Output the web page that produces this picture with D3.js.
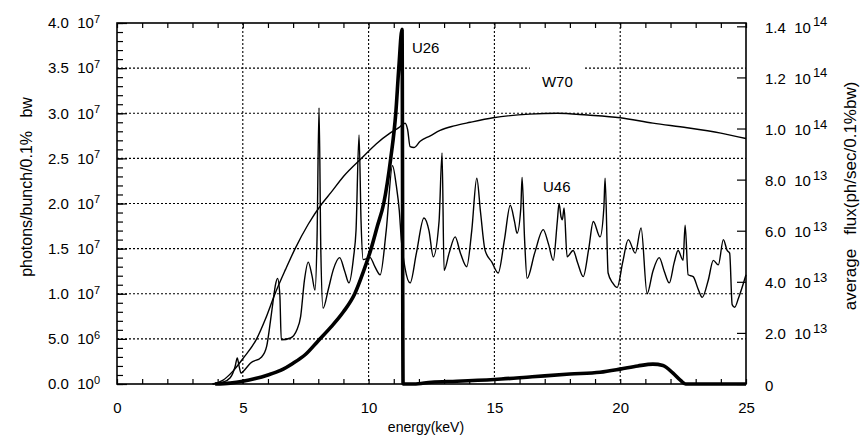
<!DOCTYPE html>
<html>
<head>
<meta charset="utf-8">
<script src="https://cdn.jsdelivr.net/npm/d3@7"></script>
<style>
body { margin: 0; background: #fff; }
text { font-family: "Liberation Sans", Arial, sans-serif; fill: #000; }
</style>
</head>
<body>
<svg id="chart"></svg>
<script>
// values in units of 10^7 photons/bunch/0.1% bw, energy in keV
let u26 = [
    [3.9, 0], [4.5, 0.01], [5, 0.03], [5.5, 0.06], [6, 0.1], [6.5, 0.15], [7, 0.23],
    [7.5, 0.33], [8, 0.48], [8.5, 0.63], [9, 0.8], [9.45, 1.0], [9.8, 1.25], [10.1, 1.5],
    [10.35, 1.75], [10.6, 2.0], [10.88, 2.5], [11.08, 3.0], [11.2, 3.5], [11.33, 3.93],
    [11.37, 0], [11.8, 0], [12.5, 0.02], [13.5, 0.03], [15, 0.05], [16.5, 0.08], [18, 0.11],
    [19.2, 0.13], [20, 0.165], [20.7, 0.2], [21.3, 0.22], [21.7, 0.205], [22.1, 0.12],
    [22.4, 0.04], [22.6, 0], [25, 0]
];

let w70 = [
    [3.8, 0], [4.2, 0.04], [4.6, 0.14], [5.0, 0.28], [5.55, 0.5], [5.9, 0.72], [6.28, 1.0],
    [6.7, 1.27], [7.08, 1.5], [7.6, 1.77], [8.15, 2.0], [8.5, 2.12], [9.0, 2.3], [9.75, 2.51],
    [10.3, 2.66], [10.85, 2.78], [11.2, 2.84], [11.45, 2.89], [11.55, 2.82], [11.65, 2.63],
    [11.8, 2.62], [12.05, 2.69], [12.45, 2.75], [12.84, 2.81], [13.4, 2.86], [14.04, 2.9],
    [14.95, 2.95], [16.4, 2.99], [17.5, 3.0], [18.7, 2.98], [20, 2.95], [21.3, 2.89],
    [22.66, 2.84], [24, 2.78], [25, 2.72]
];

let u46 = [
    [3.8, 0], [4.2, 0.02], [4.5, 0.07], [4.7, 0.2], [4.78, 0.29], [4.85, 0.2], [4.93, 0.12],
    [5.05, 0.15], [5.3, 0.23], [5.75, 0.3], [5.95, 0.42], [6.1, 0.7], [6.22, 0.95], [6.3, 1.1],
    [6.38, 1.17], [6.47, 1.0], [6.53, 0.49], [6.9, 0.51], [7.15, 0.6], [7.3, 0.75], [7.45, 1.15],
    [7.6, 1.35], [7.75, 1.2], [7.87, 1.04], [7.95, 1.6], [8.03, 3.06], [8.1, 1.5], [8.19, 0.84],
    [8.4, 1.05], [8.6, 1.27], [8.85, 1.4], [9.05, 1.25], [9.22, 1.12], [9.4, 1.4], [9.5, 1.7],
    [9.62, 2.76], [9.7, 1.8], [9.78, 1.38], [10.06, 1.4], [10.25, 1.3], [10.46, 1.21],
    [10.7, 1.7], [10.95, 2.42], [11.1, 2.2], [11.22, 1.92], [11.3, 1.6], [11.45, 1.28],
    [11.65, 1.12], [11.9, 1.45], [12.2, 1.84], [12.4, 1.7], [12.57, 1.41], [12.8, 1.8],
    [12.92, 2.56], [13.0, 1.26], [13.2, 1.45], [13.44, 1.63], [13.65, 1.45], [13.9, 1.3],
    [14.1, 1.7], [14.3, 2.28], [14.45, 1.9], [14.63, 1.48], [14.9, 1.35], [15.15, 1.23],
    [15.4, 1.6], [15.63, 1.98], [15.8, 1.8], [15.9, 1.67], [16.05, 1.95], [16.1, 2.29],
    [16.2, 1.6], [16.3, 1.17], [16.6, 1.45], [16.94, 1.71], [17.15, 1.55], [17.34, 1.37],
    [17.5, 1.8], [17.57, 2.0], [17.65, 1.85], [17.7, 1.82], [17.77, 1.95], [17.89, 1.41],
    [18.13, 1.48], [18.3, 1.35], [18.53, 1.19], [18.75, 1.5], [18.93, 1.8], [19.2, 1.63],
    [19.35, 1.95], [19.4, 2.28], [19.52, 1.23], [19.7, 1.12], [19.88, 1.07], [20.1, 1.35],
    [20.32, 1.6], [20.6, 1.45], [20.83, 1.73], [21.07, 1.0], [21.3, 1.25], [21.55, 1.4],
    [21.75, 1.25], [21.95, 1.12], [22.15, 1.35], [22.3, 1.48], [22.5, 1.37], [22.58, 1.76],
    [22.7, 1.21], [22.9, 1.19], [23.1, 1.05], [23.26, 0.96], [23.5, 1.15], [23.7, 1.37],
    [23.9, 1.32], [24.1, 1.6], [24.25, 1.48], [24.35, 1.45], [24.45, 0.88], [24.55, 0.85],
    [24.7, 0.95], [25, 1.21]
];

let xTicks = [0, 5, 10, 15, 20, 25];
let leftTicks = [0, 0.5, 1, 1.5, 2, 2.5, 3, 3.5, 4];
let leftTickText = ["0.0", "5.0", "1.0", "1.5", "2.0", "2.5", "3.0", "3.5", "4.0"];
let leftTickExp = ["0", "6", "7", "7", "7", "7", "7", "7", "7"];
// right axis in units of 10^13 ph/sec/0.1%bw
let rightTicks = [0, 2, 4, 6, 8, 10, 12, 14];
let rightTickText = ["0", "2.0", "4.0", "6.0", "8.0", "1.0", "1.2", "1.4"];
let rightTickExp = ["", "13", "13", "13", "13", "14", "14", "14"];

let width = 863;
let height = 441;
let plotLeft = 117, plotRight = 746, plotTop = 23, plotBottom = 384;

let svg = d3.select("#chart").attr("width", width).attr("height", height);

let xScale = d3.scaleLinear().domain([0, 25]).range([plotLeft, plotRight]);
let yScale = d3.scaleLinear().domain([0, 4]).range([plotBottom, plotTop]);
let yRight = d3.scaleLinear().domain([0, 14.13]).range([plotBottom, plotTop]);

// grid
svg.append("g")
    .selectAll("line")
    .data(leftTicks.filter(d => d > 0 && d < 4))
    .join("line")
    .attr("x1", plotLeft).attr("x2", plotRight)
    .attr("y1", d => yScale(d)).attr("y2", d => yScale(d))
    .attr("stroke", "#000").attr("stroke-width", 1.1)
    .attr("stroke-dasharray", "2,2");

svg.append("g")
    .selectAll("line")
    .data(xTicks.filter(d => d > 0 && d < 25))
    .join("line")
    .attr("x1", d => xScale(d)).attr("x2", d => xScale(d))
    .attr("y1", plotTop).attr("y2", plotBottom)
    .attr("stroke", "#000").attr("stroke-width", 1.1)
    .attr("stroke-dasharray", "2,2");

// minor ticks
let noDomain = g => g.select(".domain").remove();

svg.append("g")
    .attr("transform", "translate(" + plotLeft + ",0)")
    .call(d3.axisLeft(yScale).tickValues(d3.range(0, 41).map(d => d / 10)).tickSize(-6).tickFormat(""))
    .call(noDomain);

svg.append("g")
    .attr("transform", "translate(0," + plotBottom + ")")
    .call(d3.axisBottom(xScale).tickValues(d3.range(0, 26)).tickSize(-5).tickFormat(""))
    .call(noDomain);

svg.append("g")
    .attr("transform", "translate(0," + plotTop + ")")
    .call(d3.axisTop(xScale).tickValues(d3.range(0, 26)).tickSize(-5).tickFormat(""))
    .call(noDomain);

// major axes
let fmtTicks = (g, texts, exps, supSize, supDx) => {
    g.selectAll(".tick text").each(function (d, i) {
        let t = d3.select(this).text(null);
        t.append("tspan").text(exps[i] ? texts[i] + "\u00a0\u00a010" : texts[i]);
        if (exps[i]) {
            t.append("tspan")
                .attr("dy", "-0.5em")
                .attr("dx", supDx)
                .attr("font-size", supSize)
                .text(exps[i]);
        }
    });
};

svg.append("g")
    .attr("transform", "translate(" + plotLeft + ",0)")
    .call(d3.axisLeft(yScale).tickValues(leftTicks).tickSize(-10).tickPadding(17).tickFormat(""))
    .call(noDomain)
    .attr("font-size", 15)
    .call(g => fmtTicks(g, leftTickText, leftTickExp, 11, 0));

svg.append("g")
    .attr("transform", "translate(" + plotRight + ",0)")
    .call(d3.axisRight(yRight).tickValues(rightTicks).tickSize(-9).tickPadding(19).tickFormat(""))
    .call(noDomain)
    .attr("font-size", 15)
    .call(g => g.selectAll(".tick text").attr("dy", "0.4em"))
    .call(g => fmtTicks(g, rightTickText, rightTickExp, 13, 2));

svg.append("g")
    .attr("transform", "translate(0," + plotBottom + ")")
    .call(d3.axisBottom(xScale).tickValues(xTicks).tickSize(0).tickPadding(18))
    .call(noDomain)
    .attr("font-size", 15);

svg.selectAll(".tick line").attr("stroke", "#000").attr("stroke-width", 1.2);
svg.selectAll(".tick text").attr("fill", "#000");

// frame
svg.append("rect")
    .attr("x", plotLeft).attr("y", plotTop)
    .attr("width", plotRight - plotLeft).attr("height", plotBottom - plotTop)
    .attr("fill", "none").attr("stroke", "#000").attr("stroke-width", 1.6);

// curves
let line = d3.line()
    .x(d => xScale(d[0]))
    .y(d => yScale(d[1]))
    .curve(d3.curveMonotoneX);

svg.append("path").datum(w70)
    .attr("d", line).attr("fill", "none").attr("stroke", "#000").attr("stroke-width", 1.4);

svg.append("path").datum(u46)
    .attr("d", line).attr("fill", "none").attr("stroke", "#000").attr("stroke-width", 1.4);

svg.append("path").datum(u26)
    .attr("d", line).attr("fill", "none").attr("stroke", "#000").attr("stroke-width", 3.6)
    .attr("stroke-linejoin", "round");

// curve labels
let labels = svg.append("g").attr("font-size", 15);

let w70Label = labels.append("text")
    .attr("x", xScale(16.89)).attr("y", yScale(3.29)).text("W70");
let bb = w70Label.node().getBBox();
labels.insert("rect", "text")
    .attr("x", bb.x - 12).attr("y", bb.y - 8)
    .attr("width", bb.width + 24).attr("height", bb.height + 12)
    .attr("fill", "#fff");

labels.append("text").attr("x", xScale(11.72)).attr("y", yScale(3.667)).text("U26");
labels.append("text").attr("x", xScale(16.93)).attr("y", yScale(2.127)).text("U46");

// axis titles
svg.append("text")
    .attr("x", 426).attr("y", 432)
    .attr("text-anchor", "middle").attr("font-size", 14)
    .text("energy(keV)");

svg.append("text")
    .attr("transform", "translate(32,187) rotate(-90)")
    .attr("text-anchor", "middle").attr("font-size", 16)
    .attr("xml:space", "preserve")
    .text("photons/bunch/0.1%   bw");

svg.append("text")
    .attr("transform", "translate(856,196) rotate(-90)")
    .attr("text-anchor", "middle").attr("font-size", 17)
    .attr("xml:space", "preserve")
    .text("average   flux(ph/sec/0.1%bw)");
</script>
</body>
</html>
